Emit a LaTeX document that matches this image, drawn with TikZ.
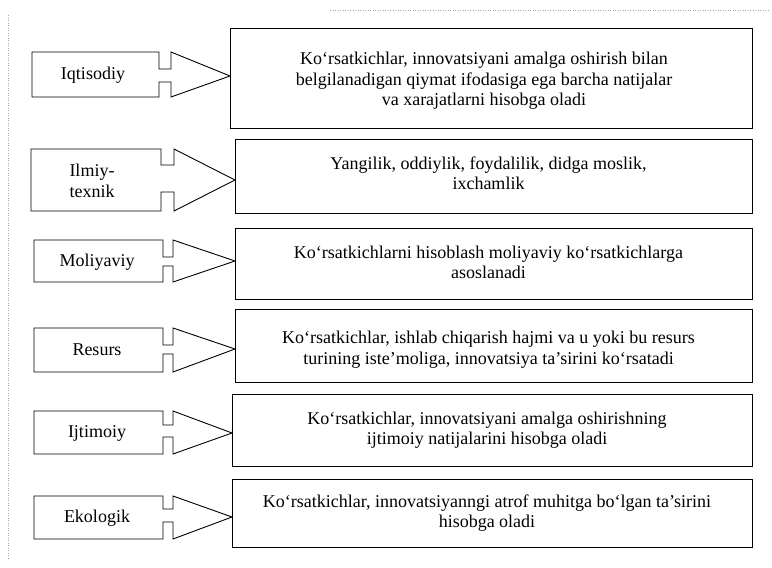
\documentclass[tikz,border=0pt]{standalone}
\usepackage{fontspec}
\setmainfont{Liberation Serif}
\usetikzlibrary{fit}
\tikzset{
  outline/.style={draw=black, line width=0.9pt, line join=miter},
  rbox/.style={draw=black, line width=0.9pt, inner sep=0pt, fit={#1}},
  txt/.style={align=center, inner sep=0pt, font=\fontsize{18}{20.5}\selectfont},
  scan/.style={draw=black!35, line width=0.5pt, dotted}
}
% left box with notched arrow: L,T,B,R,S,n1,n2,tipx,tipy
\newcommand\leftarrowbox[9]{%
  \draw[outline] (#1,#2) -- (#4,#2) -- (#4,#6) -- (#5,#6) -- (#5,#2) -- (#8,#9)
    -- (#5,#3) -- (#5,#7) -- (#4,#7) -- (#4,#3) -- (#1,#3) -- cycle;}
\begin{document}
\begin{tikzpicture}[x=1pt,y=-1pt]
\useasboundingbox (0,0) rectangle (772,568);
% faint scan marks
\draw[scan] (8,15) -- (8,560);
\draw[scan] (330,10) -- (770,10);

% right boxes
\node (r1) [rbox={(230,28) (752,128)}] {};
\node (r2) [rbox={(235,139) (752,213)}] {};
\node (r3) [rbox={(235,228) (752,299)}] {};
\node (r4) [rbox={(235,309) (752,382)}] {};
\node (r5) [rbox={(232,394) (752,466)}] {};
\node (r6) [rbox={(232,479) (752,547)}] {};

% left boxes with arrows
\leftarrowbox{32}{52}{97}{159}{171}{69}{82}{230}{76}
\leftarrowbox{31}{149}{211}{161}{174}{165}{192}{235}{180}
\leftarrowbox{34}{240}{282}{163}{173}{257}{266}{235}{261}
\leftarrowbox{34}{328}{372}{163}{173}{345}{354}{235}{349}
\leftarrowbox{34}{411}{454}{163}{173}{425}{437}{232}{433}
\leftarrowbox{34}{496}{539}{163}{173}{509}{522}{232}{517}

% left labels
\node (l1) [txt] at (93,75) {Iqtisodiy};
\node (l2) [txt] at (92,181) {Ilmiy-\\texnik};
\node (l3) [txt] at (97,262) {Moliyaviy};
\node (l4) [txt] at (97,350) {Resurs};
\node (l5) [txt] at (97,433) {Ijtimoiy};
\node (l6) [txt] at (97,518) {Ekologik};

% right texts
\node (t1) [txt] at ([xshift=-7pt,yshift=-3pt]r1.center) {Ko‘rsatkichlar, innovatsiyani amalga oshirish bilan\\belgilanadigan qiymat ifodasiga ega barcha natijalar\\va xarajatlarni hisobga oladi};
\node (t2) [txt] at ([xshift=-5pt,yshift=3pt]r2.center) {Yangilik, oddiylik, foydalilik, didga moslik,\\ixchamlik};
\node (t3) [txt] at ([xshift=-5pt,yshift=1pt]r3.center) {Ko‘rsatkichlarni hisoblash moliyaviy ko‘rsatkichlarga\\asoslanadi};
\node (t4) [txt] at ([xshift=-5pt,yshift=-4pt]r4.center) {Ko‘rsatkichlar, ishlab chiqarish hajmi va u yoki bu resurs\\turining iste’moliga, innovatsiya ta’sirini ko‘rsatadi};
\node (t5) [txt] at ([xshift=-5pt]r5.center) {Ko‘rsatkichlar, innovatsiyani amalga oshirishning\\ijtimoiy natijalarini hisobga oladi};
\node (t6) [txt] at ([xshift=-5pt]r6.center) {Ko‘rsatkichlar, innovatsiyanngi atrof muhitga bo‘lgan ta’sirini\\hisobga oladi};
\end{tikzpicture}
\end{document}
